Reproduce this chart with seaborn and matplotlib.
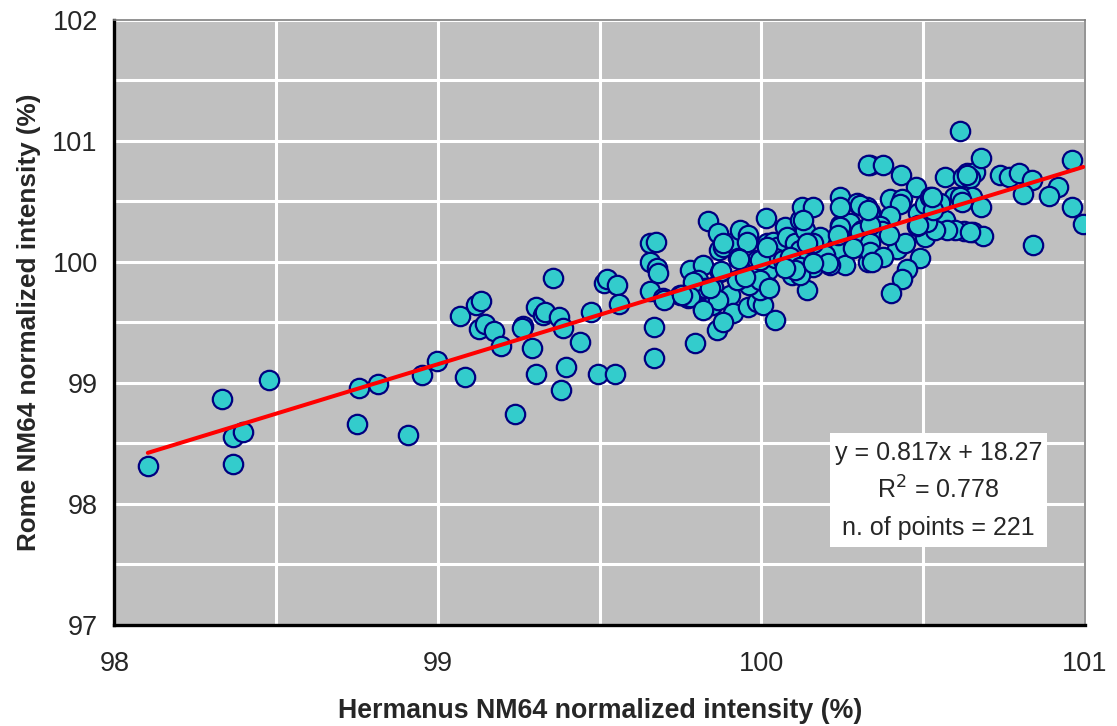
import matplotlib
matplotlib.use("Agg")
import matplotlib.pyplot as plt
import seaborn as sns
import pandas as pd
import numpy as np
from matplotlib.ticker import MultipleLocator

# Normalized NM64 count rates (%) for the two stations
hermanus = [
    98.103, 98.332, 98.367, 98.396, 98.367, 98.479, 98.755, 98.815, 98.749, 98.908,
    98.950, 98.996, 99.068, 99.117, 99.132, 99.128, 99.145, 99.173, 99.196, 99.084,
    99.238, 99.262, 99.259, 99.291, 99.303, 99.303, 99.325, 99.331, 99.355, 99.375,
    99.385, 99.396, 99.379, 99.439, 99.473, 99.496, 99.548, 99.513, 99.521, 99.554,
    99.560, 99.655, 99.674, 99.655, 99.676, 99.681, 99.655, 99.696, 99.668, 99.668,
    99.748, 99.774, 99.789, 99.779, 99.820, 99.836, 99.865, 99.870, 99.882, 99.908,
    99.934, 99.959, 99.954, 99.928, 99.985, 100.021, 99.872, 99.851, 99.841, 99.805,
    99.903, 99.913, 99.862, 99.882, 99.794, 99.820, 99.846, 99.825, 99.789, 99.944,
    99.975, 99.959, 99.985, 100.006, 100.021, 99.995, 100.042, 100.013, 99.866, 99.699,
    99.962, 99.841, 100.016, 100.036, 100.047, 100.073, 100.078, 100.104, 100.119, 100.124,
    100.160, 100.134, 100.150, 100.155, 100.119, 100.078, 100.109, 100.140, 100.093, 100.042,
    100.067, 100.088, 99.995, 99.995, 100.024, 100.181, 100.243, 100.243, 100.274, 100.310,
    100.243, 100.294, 100.243, 100.325, 100.335, 100.335, 100.279, 100.237, 100.196, 100.258,
    100.212, 100.160, 100.330, 100.119, 100.119, 100.304, 100.160, 100.614, 100.330, 100.375,
    100.431, 100.478, 100.566, 100.624, 100.634, 100.660, 100.678, 100.645, 100.736, 100.764,
    100.797, 100.836, 100.959, 100.917, 100.890, 100.807, 100.959, 100.995, 100.838, 100.655,
    100.685, 100.626, 100.595, 100.650, 100.678, 100.614, 100.567, 100.598, 100.573, 100.505,
    100.536, 100.480, 100.511, 100.485, 100.505, 100.521, 100.552, 100.619, 100.490, 100.449,
    100.436, 100.402, 100.420, 100.444, 100.397, 100.433, 100.428, 100.397, 100.366, 100.372,
    100.395, 100.335, 100.335, 100.335, 100.377, 100.531, 100.304, 100.645, 100.129, 100.243,
    100.237, 99.779, 99.753, 100.104, 100.073, 100.284, 100.341, 99.923, 99.949, 99.820,
    99.874, 99.931, 99.880, 100.016, 100.207, 100.160, 100.140, 100.330, 100.526, 100.485,
    100.634,
]
rome = [
    98.314, 98.863, 98.549, 98.593, 98.328, 99.022, 98.954, 98.989, 98.659, 98.565,
    99.064, 99.179, 99.551, 99.642, 99.678, 99.446, 99.483, 99.430, 99.303, 99.050,
    98.739, 99.469, 99.455, 99.289, 99.069, 99.628, 99.560, 99.587, 99.868, 99.540,
    99.455, 99.132, 98.940, 99.339, 99.587, 99.069, 99.069, 99.821, 99.855, 99.807,
    99.650, 100.152, 100.165, 99.995, 99.945, 99.904, 99.760, 99.698, 99.458, 99.207,
    99.725, 99.698, 99.793, 99.931, 99.973, 100.336, 100.235, 100.097, 100.124, 100.152,
    100.262, 100.221, 100.165, 100.028, 100.014, 99.931, 99.917, 99.793, 99.711, 99.849,
    99.725, 99.574, 99.436, 99.504, 99.326, 99.615, 99.642, 99.780, 99.835, 99.876,
    99.890, 99.628, 99.669, 99.642, 99.793, 99.766, 99.518, 100.359, 99.683, 99.683,
    99.807, 99.780, 100.152, 100.165, 100.124, 100.289, 100.207, 100.152, 100.345, 100.455,
    100.455, 100.262, 100.152, 100.041, 100.097, 99.987, 99.931, 99.766, 99.890, 100.028,
    100.014, 100.041, 100.014, 99.849, 99.780, 100.207, 100.212, 100.303, 100.317, 100.262,
    100.537, 100.483, 100.455, 100.455, 100.411, 100.799, 100.111, 100.083, 100.055, 99.973,
    99.973, 99.959, 100.000, 99.959, 99.890, 100.248, 100.152, 101.083, 100.799, 100.799,
    100.717, 100.621, 100.702, 100.702, 100.731, 100.744, 100.861, 100.689, 100.717, 100.698,
    100.736, 100.675, 100.840, 100.620, 100.543, 100.560, 100.450, 100.309, 100.138, 100.248,
    100.212, 100.256, 100.532, 100.532, 100.455, 100.532, 100.345, 100.262, 100.262, 100.200,
    100.262, 100.295, 100.331, 100.402, 100.477, 100.532, 100.483, 100.496, 100.028, 99.936,
    99.853, 99.741, 100.105, 100.152, 100.514, 100.518, 100.473, 100.374, 100.299, 100.254,
    100.221, 100.303, 100.152, 100.076, 100.041, 100.427, 100.469, 100.248, 100.345, 100.289,
    100.221, 99.711, 99.725, 99.931, 99.945, 100.111, 100.000, 99.849, 99.876, 99.601,
    99.926, 100.020, 100.152, 100.124, 99.987, 99.987, 100.152, 100.427, 100.537, 100.303,
    100.717,
]

# Linear fit reported on the chart
slope = 0.817
intercept = 18.27
r_squared = 0.778

df = pd.DataFrame({"hermanus": hermanus, "rome": rome})

sns.set_style("white", {
    "axes.facecolor": "#C0C0C0",
    "axes.edgecolor": "black",
    "grid.color": "white",
})
plt.rcParams["font.family"] = ["Liberation Sans", "DejaVu Sans"]

fig = plt.figure(figsize=(11.17, 7.26), dpi=100)
ax = fig.add_axes([0.1025, 0.1395, 0.8688, 0.8334])

ax.set_axisbelow(True)
ax.grid(True, which="both", color="white", linewidth=2.2)

sns.scatterplot(data=df, x="hermanus", y="rome", ax=ax,
                s=195, color="#33CCCC", edgecolor="#000080",
                linewidth=1.6, zorder=3, legend=False)

xfit = np.array([min(hermanus), max(hermanus)])
sns.lineplot(x=xfit, y=slope * xfit + intercept, ax=ax,
             color="#FF0000", linewidth=2.9, zorder=4)

ax.set_xlim(98, 101)
ax.set_ylim(97, 102)
ax.xaxis.set_major_locator(MultipleLocator(1))
ax.xaxis.set_minor_locator(MultipleLocator(0.5))
ax.yaxis.set_major_locator(MultipleLocator(1))
ax.yaxis.set_minor_locator(MultipleLocator(0.5))

ax.tick_params(axis="both", which="both", direction="in", length=5,
               width=2, color="black", labelsize=19.5)
ax.tick_params(axis="x", which="both", pad=19)
ax.tick_params(axis="y", which="both", pad=12)

for side in ("left", "bottom"):
    ax.spines[side].set_linewidth(2.4)
    ax.spines[side].set_color("black")
for side in ("top", "right"):
    ax.spines[side].set_visible(True)
    ax.spines[side].set_linewidth(1.2)
    ax.spines[side].set_color("#808080")

ax.set_xlabel("Hermanus NM64 normalized intensity (%)", fontsize=19.3,
              fontweight="bold", labelpad=15)
ax.set_ylabel("Rome NM64 normalized intensity (%)", fontsize=18.8,
              fontweight="bold", labelpad=8)

# Fit summary box
ax.add_patch(plt.Rectangle((100.212, 97.642), 0.671, 0.942, facecolor="white",
                           edgecolor="none", zorder=5))
cx = 100.5475
ax.text(cx, 98.42, f"y = {slope}x + {intercept}", ha="center", va="center",
        fontsize=18, zorder=6)
ax.text(cx, 98.11, f"R$^2$ = {r_squared}", ha="center", va="center",
        fontsize=18, zorder=6)
ax.text(cx, 97.80, f"n. of points = {len(hermanus)}", ha="center", va="center",
        fontsize=18, zorder=6)

fig.savefig("out.png", dpi=100, facecolor="white")
